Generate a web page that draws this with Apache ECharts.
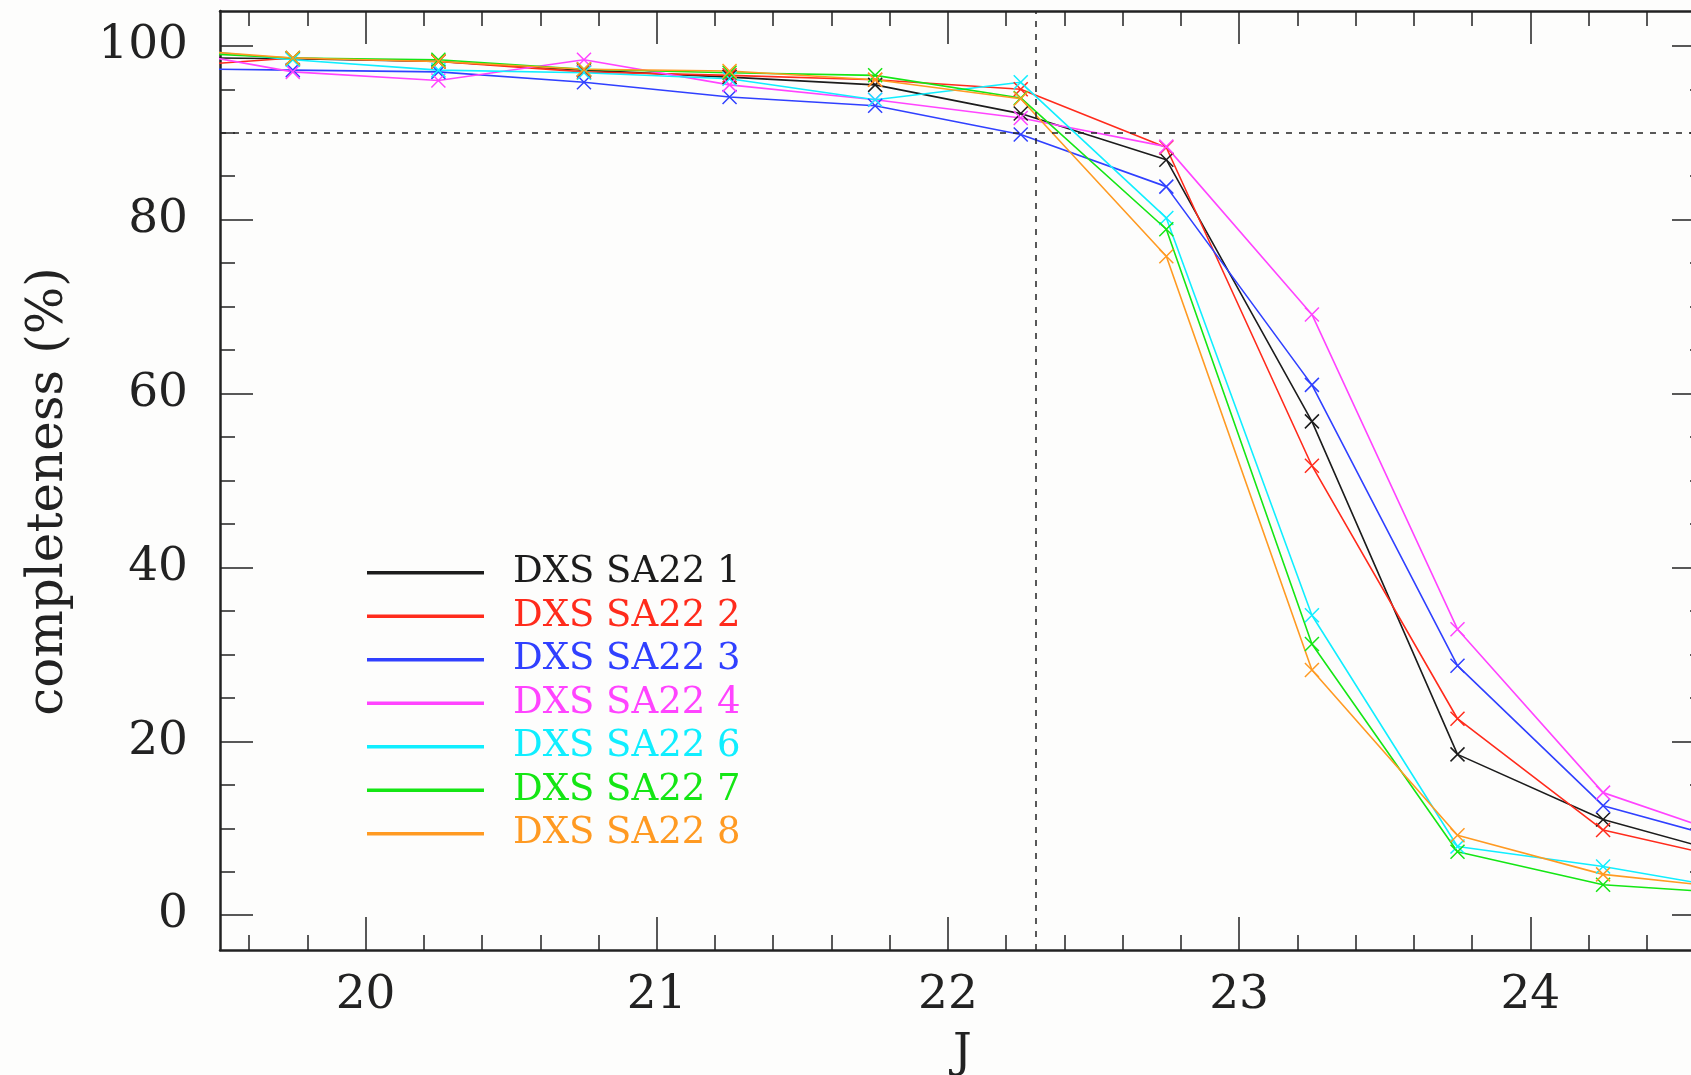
<!DOCTYPE html>
<html>
<head>
<meta charset="utf-8">
<script src="https://cdn.jsdelivr.net/npm/echarts@6/dist/echarts.min.js"></script>
<style>
    html, body { margin: 0; padding: 0; background: #fdfdfc; }
    #chart { width: 1691px; height: 1075px; }
</style>
</head>
<body>
<div id="chart"></div>
<script>
// magnitude bins (J), first and last bin lie just outside the frame
var mags = [19.25, 19.75, 20.25, 20.75, 21.25, 21.75, 22.25, 22.75, 23.25, 23.75, 24.25, 24.75];

var field1 = [98.7, 98.5, 98.2, 97.2, 96.4, 95.5, 92.2, 86.9, 56.8, 18.5, 11.0, 6.4];
var field2 = [97.4, 98.6, 98.2, 97.0, 96.6, 96.1, 95.0, 88.3, 51.7, 22.6, 9.8, 6.0];
var field3 = [97.4, 97.2, 97.0, 95.8, 94.1, 93.1, 89.8, 83.8, 61.0, 28.7, 12.6, 8.0];
var field4 = [100.0, 97.0, 96.0, 98.4, 95.5, 93.8, 91.7, 88.4, 69.1, 32.9, 14.1, 8.4];
var field6 = [100.0, 98.4, 97.2, 96.9, 96.2, 93.8, 95.8, 80.2, 34.5, 7.9, 5.6, 2.7];
var field7 = [99.4, 98.6, 98.4, 97.3, 96.9, 96.6, 94.0, 78.9, 31.2, 7.3, 3.5, 2.4];
var field8 = [99.8, 98.6, 98.2, 97.3, 97.1, 96.1, 93.9, 75.8, 28.2, 9.2, 4.7, 2.9];

var names = ['DXS SA22 1', 'DXS SA22 2', 'DXS SA22 3', 'DXS SA22 4', 'DXS SA22 6', 'DXS SA22 7', 'DXS SA22 8'];
var colors = ['#1c1c1c', '#ff2b1c', '#3040ff', '#ff44ff', '#10eeff', '#14e614', '#ff9a22'];
var fields = [field1, field2, field3, field4, field6, field7, field8];

var xTicks = [20, 21, 22, 23, 24];
var yTicks = [0, 20, 40, 60, 80, 100];
var completenessCut = 90;   // horizontal dashed line
var magCut = 22.3;          // vertical dashed line

var xMinor = [];
for (var i = 98; i <= 122; i++) { if (i % 5) xMinor.push(i / 5); }
var yMinor = [];
for (var j = 1; j < 20; j++) { if (j % 4) yMinor.push(j * 5); }

var ink = '#222';
var font = 'DejaVu Serif';

var myChart = echarts.init(document.getElementById('chart'), null, {renderer: 'canvas'});

function xAx(pos, ticks, len, labels, line) {
    return {
        type: 'value', position: pos, min: 19.5, max: 24.6,
        axisLine: {show: line, onZero: false, lineStyle: {color: ink, width: 2.5}},
        axisTick: {show: true, inside: true, length: len, customValues: ticks, lineStyle: {color: ink, width: 1.5}},
        axisLabel: labels ? {
            show: true, customValues: ticks, margin: 22,
            color: ink, fontSize: 47, fontFamily: font
        } : {show: false},
        splitLine: {show: false}
    };
}
function yAx(pos, ticks, len, labels, line) {
    return {
        type: 'value', position: pos, min: -4, max: 104,
        axisLine: {show: line, onZero: false, lineStyle: {color: ink, width: 2.5}},
        axisTick: {show: true, inside: true, length: len, customValues: ticks, lineStyle: {color: ink, width: 1.5}},
        axisLabel: labels ? {
            show: true, customValues: ticks, margin: 32, padding: [12, 0, 0, 0],
            color: ink, fontSize: 47, fontFamily: font
        } : {show: false},
        splitLine: {show: false}
    };
}

var xAxes = [
    xAx('bottom', xTicks, 33, true, true),
    xAx('bottom', xMinor, 15, false, false),
    xAx('top', xTicks, 33, false, true),
    xAx('top', xMinor, 15, false, false)
];
xAxes[0].name = 'J';
xAxes[0].nameLocation = 'middle';
xAxes[0].nameGap = 80;
xAxes[0].nameTextStyle = {color: ink, fontSize: 47, fontFamily: font};

var yAxes = [
    yAx('left', yTicks, 33, true, true),
    yAx('left', yMinor, 15, false, false),
    yAx('right', yTicks, 33, false, true),
    yAx('right', yMinor, 15, false, false)
];
yAxes[0].name = 'completeness (%)';
yAxes[0].nameLocation = 'middle';
yAxes[0].nameRotate = 90;
yAxes[0].nameGap = 146;
yAxes[0].nameTextStyle = {color: ink, fontSize: 50, fontFamily: font, padding: [0, 22, 0, 0]};

var series = [];
var legendData = [];
for (var k = 0; k < fields.length; k++) {
    var pts = [];
    for (var m = 0; m < mags.length; m++) pts.push([mags[m], fields[k][m]]);
    series.push({
        name: names[k],
        type: 'line',
        xAxisIndex: 0,
        yAxisIndex: 0,
        data: pts,
        clip: true,
        symbol: 'path://M0,0L10,10M10,0L0,10',
        symbolSize: 14,
        showSymbol: true,
        itemStyle: {color: colors[k], borderColor: colors[k], borderWidth: 1.5},
        lineStyle: {color: colors[k], width: 1.6},
        emphasis: {disabled: true},
        animation: false
    });
    legendData.push({name: names[k], textStyle: {color: colors[k]}});
}
series[0].markLine = {
    silent: true,
    symbol: ['none', 'none'],
    label: {show: false},
    lineStyle: {color: ink, type: [6, 7], width: 1.5},
    data: [{yAxis: completenessCut}, {xAxis: magCut}]
};

var option = {
    backgroundColor: '#fdfdfc',
    animation: false,
    grid: {left: 220, top: 11, width: 1485, height: 939, outerBoundsMode: 'none', containLabel: false},
    xAxis: xAxes,
    yAxis: yAxes,
    legend: {
        orient: 'vertical',
        left: 367,
        top: 551,
        padding: 0,
        icon: 'rect',
        itemWidth: 115,
        itemHeight: 1.6,
        itemGap: 0,
        selectedMode: false,
        textStyle: {fontSize: 37, lineHeight: 43.5, fontFamily: font, padding: [0, 0, 0, 25]},
        data: legendData
    },
    series: series
};

myChart.setOption(option);
</script>
</body>
</html>
